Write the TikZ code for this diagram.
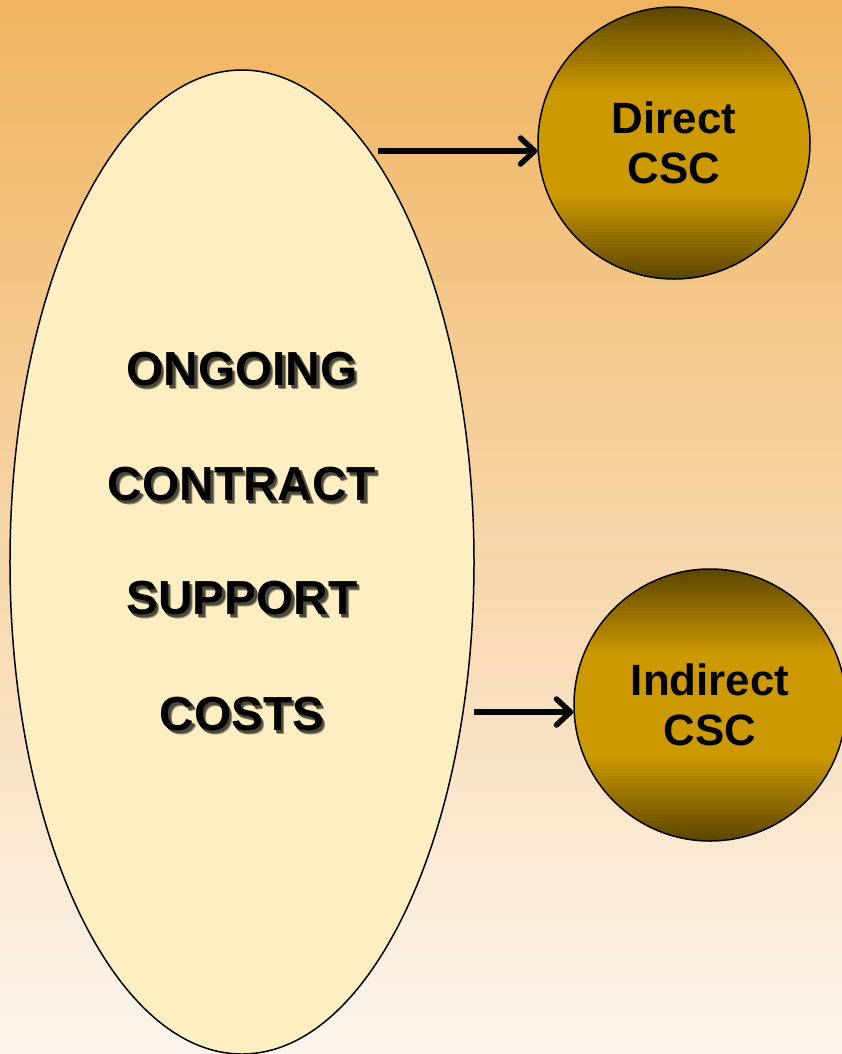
\documentclass[tikz,border=0pt]{standalone}
\usepackage{fontspec}
\setmainfont{Liberation Sans}
\usetikzlibrary{arrows.meta, shapes.geometric, calc}
\definecolor{bgtop}{RGB}{240,180,96}
\definecolor{bgmid}{RGB}{246,212,160}
\definecolor{bgbot}{RGB}{253,246,238}
\definecolor{ovalfill}{RGB}{254,239,194}
\definecolor{csclight}{RGB}{204,153,0}
\definecolor{cscdark}{RGB}{90,68,0}
% text with a drop shadow
\newcommand{\dropshadow}[1]{%
  \makebox[0pt][l]{\hspace{3.5bp}\raisebox{-3.5bp}{\color{black!40!ovalfill}#1}}%
  \makebox[0pt][l]{\hspace{2.5bp}\raisebox{-2.5bp}{\color{black!70!ovalfill}#1}}%
  #1}

\begin{document}
\begin{tikzpicture}[x=1bp, y=-1bp, every node/.style={font=\bfseries},
  bigword/.style={font=\bfseries\fontsize{48}{52}\selectfont, inner sep=0pt},
  cscball/.style={circle, draw, line width=1.5bp, minimum size=272bp, inner sep=0pt,
    align=center, font=\bfseries\fontsize{44}{50}\selectfont},
  feed/.style={line width=5.5bp, -{Straight Barb[round, length=14bp, width=26bp]}}]
  % Background
  \shade[top color=bgtop, middle color=bgmid, bottom color=bgbot] (0,0) rectangle (842,1054);
  \useasboundingbox (0,0) rectangle (842,1054);
  % Big oval
  \node[draw, ellipse, fill=ovalfill, line width=1.5bp, minimum width=464bp,
    minimum height=984bp, inner sep=0pt] (oval) at (242,562) {};
  \foreach \word/\y in {ONGOING/371, CONTRACT/486, SUPPORT/600, COSTS/716}{
    \node[bigword] (w-\word) at (242,\y) {\dropshadow{\word}};
  }
  % CSC circles: dark rim to gold middle, in bands
  \foreach \cx/\cy in {674/143, 710/705}{
    \begin{scope}
      \clip (\cx,\cy) circle[radius=136];
      \foreach \i in {0,...,90}{
        \pgfmathsetmacro{\mix}{min(100, 160*(1-abs((\i+0.5)/45.5-1)))}
        \fill[csclight!\mix!cscdark] (\cx-137,\cy-136+3*\i) rectangle ++(274,3.8);
      }
    \end{scope}
  }
  \node[cscball] (direct) at (674,143) {Direct\\CSC};
  \node[cscball] (indirect) at (710,705) {Indirect\\CSC};
  % Arrows
  \coordinate (out-d) at (378,151);
  \coordinate (out-i) at (474,712);
  \draw[feed] (out-d) -- (out-d -| direct.west);
  \draw[feed] (out-i) -- (out-i -| indirect.west);
\end{tikzpicture}
\end{document}
